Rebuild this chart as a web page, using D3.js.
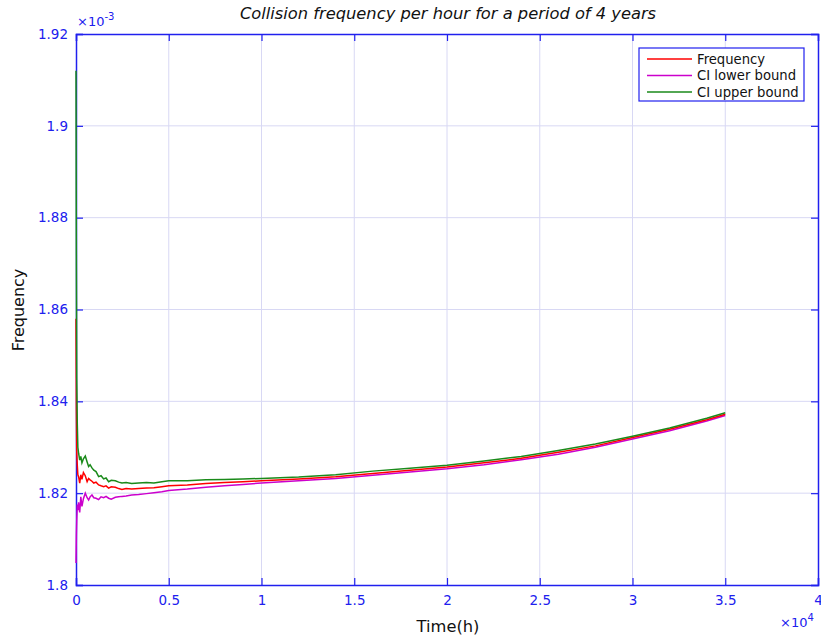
<!DOCTYPE html>
<html><head><meta charset="utf-8">
<script src="https://cdn.jsdelivr.net/npm/d3@7"></script>
<style>body{margin:0;background:#fff;} text{font-family:"DejaVu Sans",sans-serif;}</style>
</head><body>
<svg id="c" width="821" height="639"></svg>
<script>
const times = [0,20,40,70,100,140,200,260,320,400,500,600,680,760,860,960,1080,1220,1350,1490,1620,1760,1900,2120,2300,2475,2700,3000,3375,3800,4200,4630,5000,6000,7000,8000,9000,10000,12000,14000,16000,18000,20000,22000,24000,26000,28000,30000,32000,34000,35000];
const frequency = [1.858,1.838,1.829,1.826,1.8240,1.8236,1.8222,1.8240,1.8230,1.8245,1.8238,1.8225,1.8232,1.8229,1.8226,1.8222,1.8224,1.8218,1.8216,1.8214,1.8216,1.8211,1.8214,1.8213,1.8210,1.8208,1.8210,1.8209,1.8210,1.8211,1.8212,1.8214,1.8216,1.8218,1.8221,1.8223,1.8225,1.8227,1.8231,1.8236,1.8243,1.8250,1.8257,1.8266,1.8276,1.8289,1.8303,1.8321,1.8339,1.8360,1.8372];
const ciLower = [1.8048,1.811,1.8142,1.8175,1.8163,1.8180,1.8158,1.8192,1.8171,1.8188,1.8200,1.8190,1.8185,1.8192,1.8196,1.8190,1.8189,1.8186,1.8192,1.8190,1.8193,1.8189,1.8187,1.8191,1.8192,1.8193,1.8194,1.8196,1.8197,1.8199,1.8201,1.8203,1.8206,1.8209,1.8213,1.8216,1.8219,1.8222,1.8227,1.8232,1.8239,1.8246,1.8253,1.8262,1.8273,1.8285,1.8300,1.8318,1.8336,1.8357,1.8369];
const ciUpper = [1.912,1.870,1.845,1.835,1.830,1.8287,1.8272,1.8280,1.8266,1.8275,1.8281,1.8268,1.8258,1.8262,1.8255,1.8250,1.8247,1.8236,1.8238,1.8231,1.8233,1.8225,1.8228,1.8227,1.8224,1.8222,1.8223,1.8221,1.8222,1.8223,1.8222,1.8225,1.8227,1.8227,1.8229,1.8230,1.8231,1.8232,1.8235,1.8240,1.8248,1.8254,1.8261,1.8270,1.8280,1.8293,1.8307,1.8324,1.8342,1.8363,1.8375];
const xTicks = [0,0.5,1,1.5,2,2.5,3,3.5,4];
const yTicks = [1.80,1.82,1.84,1.86,1.88,1.90,1.92];
const seriesNames = ["Frequency","CI lower bound","CI upper bound"];
const seriesColors = ["#ff0000","#cc00cc","#1a8a1a"];

const svg = d3.select("#c");
const L=76,R=818,T=34,B=585;
const axisCol="#2020ee", gridCol="#d8d8f4";
const x = d3.scaleLinear().domain([0,4]).range([L,R]);
const y = d3.scaleLinear().domain([1.80,1.92]).range([B,T]);

// grid
svg.append("g").selectAll("line").data(xTicks.slice(1,-1)).join("line")
  .attr("x1",d=>x(d)).attr("x2",d=>x(d)).attr("y1",T).attr("y2",B)
  .attr("stroke",gridCol).attr("stroke-width",1);
svg.append("g").selectAll("line").data(yTicks.slice(1,-1)).join("line")
  .attr("y1",d=>y(d)).attr("y2",d=>y(d)).attr("x1",L).attr("x2",R)
  .attr("stroke",gridCol).attr("stroke-width",1);

// axes with inward ticks
const fmtY = d=>d3.format(".2f")(d).replace(/0$/,"").replace(/\.$/,"");
const fmtX = d=>String(d);
const ax = svg.append("g").attr("transform",`translate(0,${B})`)
  .call(d3.axisBottom(x).tickValues(xTicks).tickSize(-7).tickPadding(10).tickFormat(fmtX));
const axT = svg.append("g").attr("transform",`translate(0,${T})`)
  .call(d3.axisTop(x).tickValues(xTicks).tickSize(-7).tickFormat(""));
const ay = svg.append("g").attr("transform",`translate(${L},0)`)
  .call(d3.axisLeft(y).tickValues(yTicks).tickSize(-7).tickPadding(8).tickFormat(fmtY));
const ayR = svg.append("g").attr("transform",`translate(${R},0)`)
  .call(d3.axisRight(y).tickValues(yTicks).tickSize(-7).tickFormat(""));
[ax,axT,ay,ayR].forEach(g=>{
  g.select(".domain").attr("stroke",axisCol).attr("stroke-width",1.5);
  g.selectAll(".tick line").attr("stroke",axisCol).attr("stroke-width",1.2);
  g.selectAll(".tick text").attr("fill",axisCol).attr("font-size",13.5).attr("font-family","DejaVu Sans");
});

// lines
const data = [frequency, ciLower, ciUpper];
const line = d3.line().x((d,i)=>x(times[i]/1e4)).y(d=>y(d));
const order = [1,0,2];
order.forEach(k=>{
  svg.append("path").datum(data[k]).attr("d",line).attr("fill","none")
    .attr("stroke",seriesColors[k]).attr("stroke-width",1.5);
});

// exponent labels
const ex = svg.append("text").attr("x",L+1).attr("y",T-8).attr("fill",axisCol).attr("font-size",13);
ex.append("tspan").text("×10");
ex.append("tspan").attr("dy",-6).attr("font-size",10).text("-3");
const ex2 = svg.append("text").attr("x",780).attr("y",627).attr("fill",axisCol).attr("font-size",13);
ex2.append("tspan").text("×10");
ex2.append("tspan").attr("dy",-6).attr("font-size",10).text("4");

// titles
svg.append("text").attr("x",448).attr("y",19).attr("text-anchor","middle")
  .attr("font-size",16.3).attr("font-style","italic").attr("fill","#111").text("Collision frequency per hour for a period of 4 years");
svg.append("text").attr("x",448).attr("y",632).attr("text-anchor","middle")
  .attr("font-size",16.3).attr("fill","#111").text("Time(h)");
svg.append("text").attr("transform","translate(24,310) rotate(-90)").attr("text-anchor","middle")
  .attr("font-size",16).attr("fill","#111").text("Frequency");

// legend
const lg = svg.append("g").attr("transform","translate(639,48)");
lg.append("rect").attr("width",165).attr("height",53).attr("fill","#fff").attr("stroke",axisCol).attr("stroke-width",1.2);
seriesNames.forEach((n,i)=>{
  const yy = 11+i*16.5;
  lg.append("line").attr("x1",8).attr("x2",53).attr("y1",yy).attr("y2",yy).attr("stroke",seriesColors[i]).attr("stroke-width",1.3);
  lg.append("text").attr("x",58).attr("y",yy+4.5).attr("font-size",13.2).attr("fill","#111").text(n);
});
</script>
</body></html>
